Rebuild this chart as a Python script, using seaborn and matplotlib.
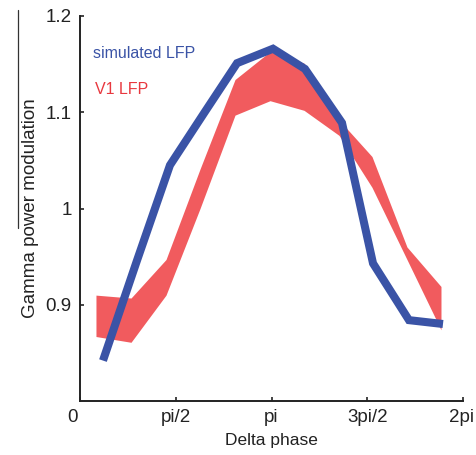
import numpy as np
import pandas as pd
import matplotlib
matplotlib.use("Agg")
import matplotlib.pyplot as plt
import matplotlib.transforms as mtransforms
import seaborn as sns
from matplotlib.lines import Line2D

# ---- data ----
sim_phase = [0.377, 0.935, 1.476, 2.034, 2.576, 3.166, 3.691, 4.298, 4.807, 5.397, 5.955]
sim_lfp = [0.842, 0.946, 1.045, 1.099, 1.151, 1.166, 1.145, 1.089, 0.943, 0.884, 0.880]

v1_phase = [0.262, 0.837, 1.411, 1.969, 2.543, 3.117, 3.675, 4.249, 4.790, 5.364, 5.922]
v1_upper = [0.910, 0.907, 0.947, 1.041, 1.134, 1.163, 1.151, 1.092, 1.054, 0.960, 0.919]
v1_lower = [0.867, 0.861, 0.910, 1.000, 1.097, 1.112, 1.102, 1.076, 1.022, 0.947, 0.874]

x_ticks = [0, np.pi / 2, np.pi, 3 * np.pi / 2, 2 * np.pi]
x_tick_labels = ["0", "pi/2", "pi", "3pi/2", "2pi"]
y_ticks = [0.9, 1.0, 1.1, 1.2]
y_tick_labels = ["0.9", "1", "1.1", "1.2"]

BLUE = "#3a53a6"
RED = "#f15b5e"

sns.set_theme(style="ticks")
plt.rcParams["font.family"] = ["Liberation Sans", "DejaVu Sans"]

fig = plt.figure(figsize=(4.76, 4.55), dpi=100)
ax = fig.add_axes([80 / 476, 1 - 401 / 455, 383 / 476, 385 / 455])

v1 = pd.DataFrame({"phase": v1_phase, "upper": v1_upper, "lower": v1_lower})
ax.fill_between(v1["phase"], v1["lower"], v1["upper"], color=RED, linewidth=0, zorder=1)

sim = pd.DataFrame({"phase": sim_phase, "value": sim_lfp})
sns.lineplot(data=sim, x="phase", y="value", ax=ax, color=BLUE, linewidth=5.8,
             zorder=2, sort=False)
for ln in ax.lines:
    ln.set_solid_joinstyle("miter")
    ln.set_solid_capstyle("butt")

ax.set_xlim(0, 2 * np.pi)
ax.set_ylim(0.8, 1.2)
ax.set_xticks(x_ticks)
ax.set_xticklabels(x_tick_labels)
ax.set_yticks(y_ticks)
ax.set_yticklabels(y_tick_labels)
ax.tick_params(direction="in", length=3, width=1.2, colors="#222222",
               labelsize=13.5, pad=6, labelcolor="#222222")

# nudge the end labels as in the reference (keeping "2pi" inside the canvas)
xl = ax.get_xticklabels()
xl[0].set_transform(xl[0].get_transform() + mtransforms.ScaledTranslation(-7 / 100, 0, fig.dpi_scale_trans))
xl[-1].set_transform(xl[-1].get_transform() + mtransforms.ScaledTranslation(-2 / 100, 0, fig.dpi_scale_trans))

for s in ["top", "right"]:
    ax.spines[s].set_visible(False)
for s in ["left", "bottom"]:
    ax.spines[s].set_linewidth(1.4)
    ax.spines[s].set_color("#222222")

ax.set_xlabel("Delta phase", fontsize=12.5, color="#222222", labelpad=5)
ax.set_ylabel("Gamma power modulation", fontsize=13.5, color="#222222", labelpad=5)

ax.text(93 / 476, 1 - 53 / 455, "simulated LFP", transform=fig.transFigure,
        color=BLUE, fontsize=11.5, ha="left", va="center")
ax.text(95 / 476, 1 - 90 / 455, "V1 LFP", transform=fig.transFigure,
        color="#e8383f", fontsize=11.5, ha="left", va="center")

fig.add_artist(Line2D([18 / 476, 18 / 476], [1 - 10 / 455, 1 - 228 / 455],
                      color="#333333", linewidth=0.9))

fig.savefig("out.png", dpi=100)
